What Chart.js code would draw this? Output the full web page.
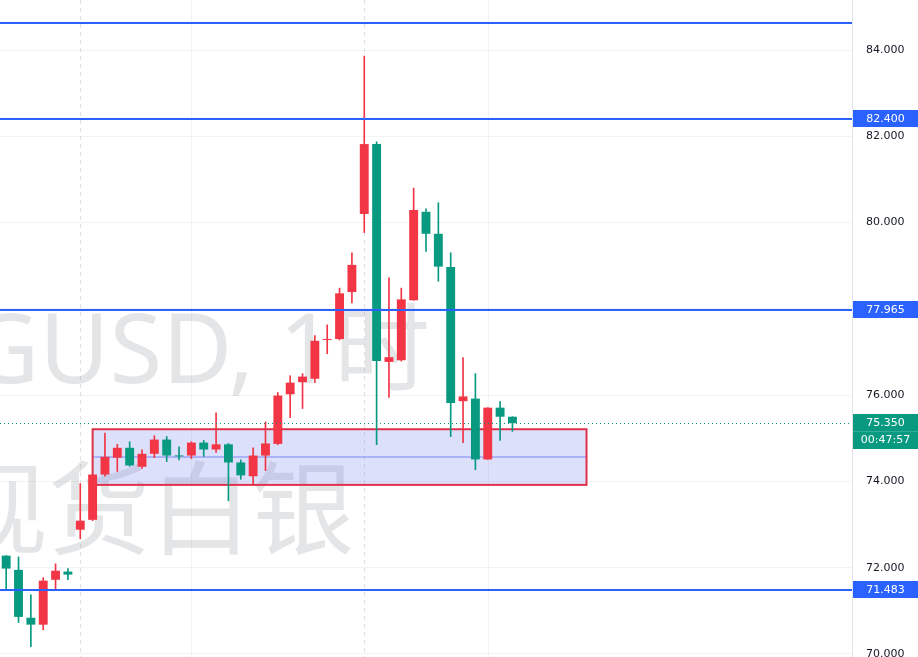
<!DOCTYPE html>
<html>
<head>
<meta charset="utf-8">
<script src="https://cdn.jsdelivr.net/npm/chart.js@4.4.1/dist/chart.umd.min.js"></script>
<style>
  html, body { margin: 0; padding: 0; background: #fff; }
  #wrap { width: 918px; height: 657px; }
</style>
</head>
<body>
<div id="wrap"><canvas id="chart" width="918" height="657"></canvas></div>
<script>
// hourly candles
const opens  = [72.28, 71.95, 70.84, 70.68, 71.72, 71.91, 72.88, 73.11, 74.16, 74.55,
                74.78, 74.34, 74.64, 74.97, 74.60, 74.60, 74.90, 74.74, 74.86, 74.44,
                74.12, 74.60, 74.87, 76.02, 76.30, 76.38, 77.28, 77.30, 78.39, 80.20,
                81.82, 76.77, 76.81, 78.20, 80.25, 79.74, 78.97, 75.86, 75.92, 74.51,
                75.71, 75.50];
const highs  = [72.28, 72.25, 71.37, 71.77, 72.09, 71.98, 73.95, 74.16, 75.12, 74.86,
                74.92, 74.73, 75.06, 75.04, 74.80, 74.92, 74.95, 75.59, 74.88, 74.50,
                74.78, 75.38, 76.06, 76.45, 76.50, 77.38, 77.63, 78.48, 79.30, 83.86,
                81.87, 78.72, 78.48, 80.80, 80.32, 80.46, 79.30, 76.87, 76.50, 75.71,
                75.85, 75.50];
const lows   = [71.50, 70.73, 70.17, 70.56, 71.51, 71.72, 72.67, 73.09, 74.12, 74.23,
                74.35, 74.30, 74.55, 74.46, 74.50, 74.53, 74.58, 74.67, 73.55, 74.05,
                73.95, 74.25, 74.85, 75.48, 75.69, 76.29, 76.96, 77.28, 78.14, 79.77,
                74.85, 75.95, 76.79, 78.20, 79.33, 78.64, 75.04, 74.90, 74.27, 74.51,
                74.95, 75.16];
const closes = [71.98, 70.86, 70.68, 71.70, 71.93, 71.84, 73.09, 74.16, 74.57, 74.78,
                74.37, 74.64, 74.97, 74.60, 74.58, 74.90, 74.74, 74.86, 74.44, 74.14,
                74.60, 74.88, 75.99, 76.29, 76.43, 77.26, 77.30, 78.36, 79.02, 81.82,
                76.79, 76.88, 78.22, 80.29, 79.74, 78.98, 75.82, 75.97, 74.51, 75.71,
                75.50, 75.35];

const slotCount = 69;   // visible bar slots incl. empty space on the right
const labels = Array.from({ length: slotCount }, (_, i) => 'h' + i);

const yTicks = [70, 72, 74, 76, 78, 80, 82, 84];
const levelValues = [84.62, 82.4, 77.965, 71.483];
const levelTags = [null, '82.400', '77.965', '71.483'];
const lastPrice = 75.35;
const lastTag = '75.350';
const countdown = '00:47:57';

// rectangle drawing (bar index range + price range)
const zoneFrom = 7, zoneTo = 47;
const zoneTop = 75.21, zoneBottom = 73.92;

const sessionBreaks = [6, 29];
const gridCols = [15, 39];

const titleText = 'XAGUSD, 1时';
const nameText = '现货白银';

const UP = '#f23645', DOWN = '#089981';
const candleColors = opens.map((o, i) => closes[i] >= o ? UP : DOWN);

const overlay = {
  id: 'overlay',
  beforeDatasetsDraw(chart) {
    const { ctx, chartArea: a, scales: { x, y } } = chart;
    ctx.save();
    ctx.beginPath();
    ctx.rect(a.left, a.top, a.right - a.left, a.bottom - a.top);
    ctx.clip();

    // vertical grid
    ctx.lineWidth = 1;
    gridCols.forEach(i => {
      const px = Math.round(x.getPixelForValue(i)) + 0.5;
      ctx.strokeStyle = 'rgba(42,46,57,0.06)';
      ctx.beginPath(); ctx.moveTo(px, a.top); ctx.lineTo(px, a.bottom); ctx.stroke();
    });
    ctx.setLineDash([4, 4]);
    sessionBreaks.forEach(i => {
      const px = Math.round(x.getPixelForValue(i)) + 0.5;
      ctx.strokeStyle = 'rgba(42,46,57,0.14)';
      ctx.beginPath(); ctx.moveTo(px, a.top); ctx.lineTo(px, a.bottom); ctx.stroke();
    });
    ctx.setLineDash([]);

    // watermark
    ctx.fillStyle = 'rgba(120,123,134,0.2)';
    ctx.textAlign = 'right';
    ctx.textBaseline = 'alphabetic';
    ctx.font = '96px "Noto Sans", "Noto Sans CJK SC"';
    ctx.fillText(titleText, 430, 383);
    ctx.textBaseline = 'middle';
    ctx.font = '102px "Noto Sans CJK SC"';
    ctx.fillText(nameText, 354, 508);

    // zone rectangle
    const zx1 = x.getPixelForValue(zoneFrom), zx2 = x.getPixelForValue(zoneTo);
    const zy1 = y.getPixelForValue(zoneTop), zy2 = y.getPixelForValue(zoneBottom);
    ctx.fillStyle = 'rgba(120,130,240,0.25)';
    ctx.fillRect(zx1, zy1, zx2 - zx1, zy2 - zy1);
    ctx.strokeStyle = 'rgba(120,130,240,0.65)';
    ctx.lineWidth = 1.5;
    const zm = (zy1 + zy2) / 2;
    ctx.beginPath(); ctx.moveTo(zx1, zm); ctx.lineTo(zx2, zm); ctx.stroke();
    ctx.strokeStyle = '#e0314b';
    ctx.lineWidth = 2;
    ctx.strokeRect(zx1, zy1, zx2 - zx1, zy2 - zy1);
    ctx.restore();
  },
  afterDatasetsDraw(chart) {
    const { ctx, chartArea: a, scales: { y } } = chart;
    ctx.save();
    ctx.strokeStyle = '#2962ff';
    ctx.lineWidth = 2;
    levelValues.forEach(v => {
      const py = Math.round(y.getPixelForValue(v));
      ctx.beginPath(); ctx.moveTo(a.left, py); ctx.lineTo(a.right, py); ctx.stroke();
    });
    // last price dotted line
    const lp = Math.round(y.getPixelForValue(lastPrice)) + 0.5;
    ctx.strokeStyle = DOWN;
    ctx.lineWidth = 1;
    ctx.setLineDash([1, 3]);
    ctx.beginPath(); ctx.moveTo(a.left, lp); ctx.lineTo(a.right, lp); ctx.stroke();
    ctx.restore();
  },
  afterDraw(chart) {
    const { ctx, chartArea: a, scales: { y } } = chart;
    const left = a.right + 1, w = chart.width - left, cx = left + w / 2;
    ctx.save();
    ctx.font = '11px "DejaVu Sans"';
    ctx.textAlign = 'center';
    ctx.textBaseline = 'middle';
    levelValues.forEach((v, i) => {
      if (!levelTags[i]) return;
      const py = Math.round(y.getPixelForValue(v));
      ctx.fillStyle = '#2962ff';
      ctx.fillRect(left, py - 9, w, 17);
      ctx.fillStyle = '#fff';
      ctx.fillText(levelTags[i], cx, py);
    });
    const lp = Math.round(y.getPixelForValue(lastPrice));
    ctx.fillStyle = DOWN;
    ctx.fillRect(left, lp - 9, w, 35);
    ctx.fillStyle = 'rgba(255,255,255,0.18)';
    ctx.fillRect(left, lp + 8, w, 1);
    ctx.fillStyle = '#fff';
    ctx.fillText(lastTag, cx, lp);
    ctx.fillText(countdown, cx, lp + 17);
    ctx.restore();
  }
};

new Chart(document.getElementById('chart'), {
  type: 'bar',
  data: {
    labels: labels,
    datasets: [
      {
        label: 'body',
        data: opens.map((o, i) => [o, closes[i]]),
        backgroundColor: candleColors,
        borderWidth: 0,
        barPercentage: 0.72,
        categoryPercentage: 1,
        grouped: false,
        minBarLength: 1,
        order: 1
      },
      {
        label: 'wick',
        data: lows.map((l, i) => [l, highs[i]]),
        backgroundColor: candleColors,
        borderWidth: 0,
        barThickness: 1,
        grouped: false,
        order: 2
      }
    ]
  },
  options: {
    responsive: false,
    animation: false,
    devicePixelRatio: 1,
    layout: { padding: 0 },
    plugins: { legend: { display: false }, tooltip: { enabled: false } },
    scales: {
      x: { display: false, offset: true },
      y: {
        position: 'right',
        min: 69.93,
        max: 85.16,
        afterBuildTicks: s => { s.ticks = yTicks.map(v => ({ value: v })); },
        afterFit: s => { s.width = 66; s.paddingTop = 0; s.paddingBottom = 0; },
        grid: { color: 'rgba(42,46,57,0.06)', drawTicks: false },
        border: { display: true, color: '#dfe2ea' },
        ticks: {
          padding: 14,
          color: '#131722',
          font: { family: 'DejaVu Sans', size: 11 },
          callback: v => Number(v).toFixed(3)
        }
      }
    }
  },
  plugins: [overlay]
});
</script>
</body>
</html>
